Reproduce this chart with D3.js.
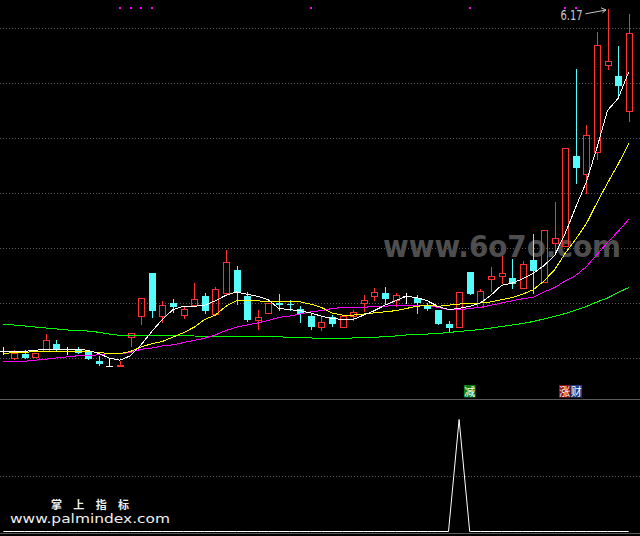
<!DOCTYPE html>
<html>
<head>
<meta charset="utf-8">
<script src="https://cdn.jsdelivr.net/npm/d3@7"></script>
<style>
  html, body { margin: 0; padding: 0; background: #000; overflow: hidden; }
  svg { display: block; }
</style>
</head>
<body>
<svg id="chart" width="640" height="536"></svg>
<script>
// ---- daily bars (oldest -> newest) ----
const open  = [3.06,3.00,3.04,3.01,3.06,3.13,3.08,3.08,3.06,2.97,
               2.93,2.93,3.19,3.38,3.77,3.38,3.50,3.39,3.48,3.56,
               3.40,3.59,3.80,3.56,3.35,3.41,3.50,3.49,3.45,3.38,
               3.28,3.37,3.28,3.38,3.50,3.56,3.59,3.53,3.56,3.55,
               3.48,3.44,3.31,3.28,3.78,3.46,3.72,3.75,3.73,3.64,
               3.89,3.69,4.05,4.02,4.84,4.67,4.87,5.66,5.56,5.25];
const high  = [3.10,3.07,3.07,3.05,3.22,3.16,3.10,3.10,3.06,3.02,
               3.00,2.97,3.23,3.55,3.77,3.52,3.54,3.46,3.68,3.59,
               3.65,3.98,3.84,3.60,3.44,3.50,3.58,3.53,3.47,3.41,
               3.37,3.39,3.38,3.44,3.57,3.64,3.65,3.59,3.59,3.57,
               3.50,3.44,3.34,3.60,3.78,3.63,3.83,3.93,3.90,3.88,
               4.13,4.16,4.42,4.91,5.63,5.12,5.96,6.17,5.84,6.13];
const low   = [3.04,2.99,3.00,3.01,3.06,3.07,3.04,3.05,2.99,2.94,
               2.93,2.93,3.11,3.31,3.37,3.33,3.42,3.36,3.48,3.41,
               3.40,3.58,3.49,3.34,3.26,3.41,3.44,3.44,3.33,3.26,
               3.25,3.29,3.28,3.35,3.43,3.53,3.50,3.47,3.50,3.41,
               3.44,3.31,3.24,3.28,3.58,3.46,3.61,3.68,3.64,3.64,
               3.59,3.69,3.97,4.02,4.59,4.50,4.81,5.63,5.38,5.15];
const close = [3.06,3.05,3.00,3.05,3.16,3.07,3.08,3.05,2.99,2.95,
               2.93,2.94,3.23,3.55,3.43,3.48,3.46,3.45,3.54,3.43,
               3.63,3.87,3.59,3.35,3.37,3.50,3.48,3.48,3.40,3.28,
               3.33,3.31,3.38,3.42,3.53,3.60,3.54,3.57,3.56,3.50,
               3.45,3.31,3.27,3.60,3.58,3.61,3.75,3.77,3.67,3.85,
               3.79,4.16,4.09,4.91,4.73,5.03,5.85,5.70,5.47,5.95];

// ---- moving averages ----
const ma5  = [3.06,3.06,3.06,3.07,3.08,3.08,3.08,3.08,3.07,3.04,
              3.00,2.98,3.02,3.12,3.24,3.35,3.44,3.47,3.47,3.48,
              3.52,3.57,3.60,3.58,3.56,3.53,3.45,3.44,3.43,3.41,
              3.38,3.36,3.35,3.35,3.39,3.43,3.48,3.52,3.56,3.55,
              3.52,3.47,3.44,3.45,3.47,3.50,3.57,3.66,3.68,3.72,
              3.77,3.84,3.93,4.13,4.37,4.60,4.91,5.25,5.36,5.60];
const ma10 = [3.04,3.05,3.05,3.06,3.06,3.06,3.06,3.06,3.06,3.05,
              3.04,3.04,3.06,3.10,3.13,3.15,3.19,3.23,3.28,3.35,
              3.39,3.47,3.52,3.52,3.52,3.51,3.51,3.51,3.51,3.49,
              3.46,3.41,3.39,3.39,3.40,3.41,3.42,3.43,3.45,3.47,
              3.48,3.47,3.48,3.49,3.50,3.50,3.51,3.53,3.55,3.58,
              3.62,3.70,3.80,3.95,4.08,4.22,4.41,4.59,4.76,4.95];
const ma20 = [2.97,2.97,2.97,2.98,2.99,3.00,3.01,3.02,3.02,3.03,
              3.04,3.04,3.05,3.08,3.09,3.11,3.12,3.14,3.16,3.18,
              3.21,3.25,3.28,3.30,3.32,3.34,3.37,3.38,3.40,3.42,
              3.43,3.45,3.46,3.46,3.46,3.47,3.47,3.48,3.48,3.48,
              3.48,3.46,3.44,3.44,3.45,3.46,3.48,3.50,3.52,3.54,
              3.55,3.60,3.64,3.70,3.75,3.83,3.94,4.05,4.15,4.26];
const ma60 = [3.305,3.300,3.291,3.282,3.273,3.264,3.255,3.250,3.245,3.234,
              3.218,3.206,3.205,3.205,3.205,3.205,3.205,3.203,3.200,3.197,
              3.197,3.197,3.197,3.195,3.195,3.193,3.193,3.188,3.186,3.182,
              3.179,3.179,3.179,3.182,3.186,3.188,3.195,3.200,3.209,3.214,
              3.218,3.223,3.232,3.241,3.250,3.259,3.273,3.286,3.300,3.314,
              3.332,3.355,3.377,3.404,3.436,3.468,3.509,3.545,3.595,3.641];

// ---- lower indicator ----
const signal = [0,0,0,0,0,0,0,0,0,0, 0,0,0,0,0,0,0,0,0,0,
                0,0,0,0,0,0,0,0,0,0, 0,0,0,0,0,0,0,0,0,0,
                0,0,0,1,0,0,0,0,0,0, 0,0,0,0,0,0,0,0,0,0];

// bars flagged with a dot along the top edge
const flagDays = [11,12,13,14,29,44,53,54];
// tags shown above the indicator panel
const tagDays  = [44, 53];
const tagTexts = [["减"], ["涨","财"]];
const tagFills = [["#0a7d12"], ["#9a1010","#1c3f86"]];

// price grid levels and indicator grid level
const priceTicks = [3.0, 3.5, 4.0, 4.5, 5.0, 5.5, 6.0];
const signalTicks = [0.5];

const W = 640, H = 536;
const svg = d3.select("#chart");
svg.append("rect").attr("width", W).attr("height", H).attr("fill", "#000");

const n = close.length;
const x = d3.scalePoint().domain(d3.range(n)).range([3.3, 628.7]);
const y = d3.scaleLinear().domain([3.0, 6.0]).range([358, 28]);
const ys = d3.scaleLinear().domain([0, 1]).range([531.5, 419.5]);
const px = v => Math.round(v);

// dotted grid
svg.append("g").selectAll("line").data(priceTicks).join("line")
  .attr("x1", 0).attr("x2", W)
  .attr("y1", d => px(y(d)) + 0.5).attr("y2", d => px(y(d)) + 0.5)
  .attr("stroke", "#5e5e5e").attr("stroke-dasharray", "1,2")
  .attr("shape-rendering", "crispEdges");
svg.append("g").selectAll("line").data(signalTicks).join("line")
  .attr("x1", 0).attr("x2", W)
  .attr("y1", d => px(ys(d)) + 0.5).attr("y2", d => px(ys(d)) + 0.5)
  .attr("stroke", "#5e5e5e").attr("stroke-dasharray", "1,2")
  .attr("shape-rendering", "crispEdges");

// panel separator and bottom rule
svg.append("line").attr("x1", 0).attr("x2", W).attr("y1", 399.5).attr("y2", 399.5)
  .attr("stroke", "#5a5a5a").attr("shape-rendering", "crispEdges");
svg.append("line").attr("x1", 0).attr("x2", W).attr("y1", 533.5).attr("y2", 533.5)
  .attr("stroke", "#5a5a5a").attr("shape-rendering", "crispEdges");

// site mark behind the bars
svg.append("text")
  .attr("x", 383).attr("y", 257)
  .attr("textLength", 238).attr("lengthAdjust", "spacingAndGlyphs")
  .attr("font-family", "DejaVu Sans, sans-serif").attr("font-weight", "bold")
  .attr("font-size", 30).attr("fill", "#4e4e4e")
  .text("www.6o7o.com");

// candlesticks
const RED = "#ff3232", CYAN = "#54fcfc";
const gC = svg.append("g").attr("shape-rendering", "crispEdges");
d3.range(n).forEach(i => {
  const cx = px(x(i));
  const yo = px(y(open[i])), yc = px(y(close[i]));
  const yh = px(y(high[i])), yl = px(y(low[i]));
  if (close[i] > open[i]) {
    const top = yc, bot = yo;
    if (yh < top) gC.append("line").attr("x1", cx + 0.5).attr("x2", cx + 0.5)
      .attr("y1", yh).attr("y2", top).attr("stroke", RED);
    if (yl > bot) gC.append("line").attr("x1", cx + 0.5).attr("x2", cx + 0.5)
      .attr("y1", bot + 1).attr("y2", yl + 1).attr("stroke", RED);
    gC.append("rect").attr("x", cx - 3 + 0.5).attr("y", top + 0.5)
      .attr("width", 6).attr("height", Math.max(1, bot - top))
      .attr("fill", "none").attr("stroke", RED);
  } else if (close[i] < open[i]) {
    gC.append("line").attr("x1", cx + 0.5).attr("x2", cx + 0.5)
      .attr("y1", yh).attr("y2", yl + 1).attr("stroke", CYAN);
    gC.append("rect").attr("x", cx - 3).attr("y", yo)
      .attr("width", 7).attr("height", Math.max(1, yc - yo))
      .attr("fill", CYAN);
  } else {
    gC.append("line").attr("x1", cx + 0.5).attr("x2", cx + 0.5)
      .attr("y1", yh).attr("y2", yl + 1).attr("stroke", "#fff");
    gC.append("line").attr("x1", cx - 3).attr("x2", cx + 4)
      .attr("y1", yo + 0.5).attr("y2", yo + 0.5).attr("stroke", "#fff");
  }
});

// moving-average lines
const line = d3.line().x((d, i) => x(i)).y(d => y(d));
[[ma60, "#00ff00"], [ma20, "#ff00ff"], [ma10, "#ffff00"], [ma5, "#ffffff"]].forEach(([s, c]) => {
  svg.append("path").attr("d", line(s)).attr("fill", "none")
    .attr("stroke", c).attr("stroke-width", 1).attr("shape-rendering", "crispEdges");
});

// flag dots along the top
svg.append("g").selectAll("rect").data(flagDays).join("rect")
  .attr("x", d => px(x(d)) - 1).attr("y", 7).attr("width", 2).attr("height", 2)
  .attr("fill", "#ff00ff");

// highest price note with arrow
const hi = d3.maxIndex(high);
const hx = x(hi), hy = y(high[hi]);
svg.append("text")
  .attr("x", hx - 47).attr("y", hy + 10.5)
  .attr("textLength", 22).attr("lengthAdjust", "spacingAndGlyphs")
  .attr("font-family", "DejaVu Sans Condensed, DejaVu Sans, sans-serif")
  .attr("font-size", 14).attr("fill", "#c8c8c8")
  .text(d3.format(".2f")(high[hi]));
svg.append("path")
  .attr("d", `M${hx - 22},${hy + 4.5} L${hx - 1.5},${hy + 0.7} M${hx - 6.5},${hy - 1.5} L${hx - 1.5},${hy + 0.7} L${hx - 5},${hy + 3.5}`)
  .attr("fill", "none").attr("stroke", "#c8c8c8").attr("stroke-width", 1);

// tags above the indicator panel
tagDays.forEach((d, k) => {
  const g = svg.append("g").attr("transform", `translate(${px(x(d)) - 6},385)`);
  tagTexts[k].forEach((t, j) => {
    g.append("rect").attr("x", j * 11.5).attr("y", 0).attr("width", 11.5).attr("height", 12.5)
      .attr("fill", tagFills[k][j]);
    g.append("text").attr("x", j * 11.5 + 5.75).attr("y", 10.8)
      .attr("text-anchor", "middle")
      .attr("font-family", "Noto Sans CJK SC, sans-serif").attr("font-size", 11)
      .attr("fill", "#fff").text(t);
  });
});

// indicator line
const sLine = d3.line().x((d, i) => x(i)).y(d => ys(d));
svg.append("path").attr("d", sLine(signal)).attr("fill", "none")
  .attr("stroke", "#fff").attr("stroke-width", 1);

// footer text
svg.append("text").attr("x", 51).attr("y", 508.5)
  .attr("font-family", "Noto Sans CJK SC, sans-serif").attr("font-weight", "bold")
  .attr("font-size", 11).attr("fill", "#f0f0f0")
  .attr("textLength", 78).attr("lengthAdjust", "spacing")
  .text("掌 上 指 标");
svg.append("text").attr("x", 10).attr("y", 523)
  .attr("font-family", "DejaVu Sans, sans-serif")
  .attr("font-size", 13).attr("fill", "#f0f0f0")
  .attr("textLength", 160).attr("lengthAdjust", "spacingAndGlyphs")
  .text("www.palmindex.com");
</script>
</body>
</html>
